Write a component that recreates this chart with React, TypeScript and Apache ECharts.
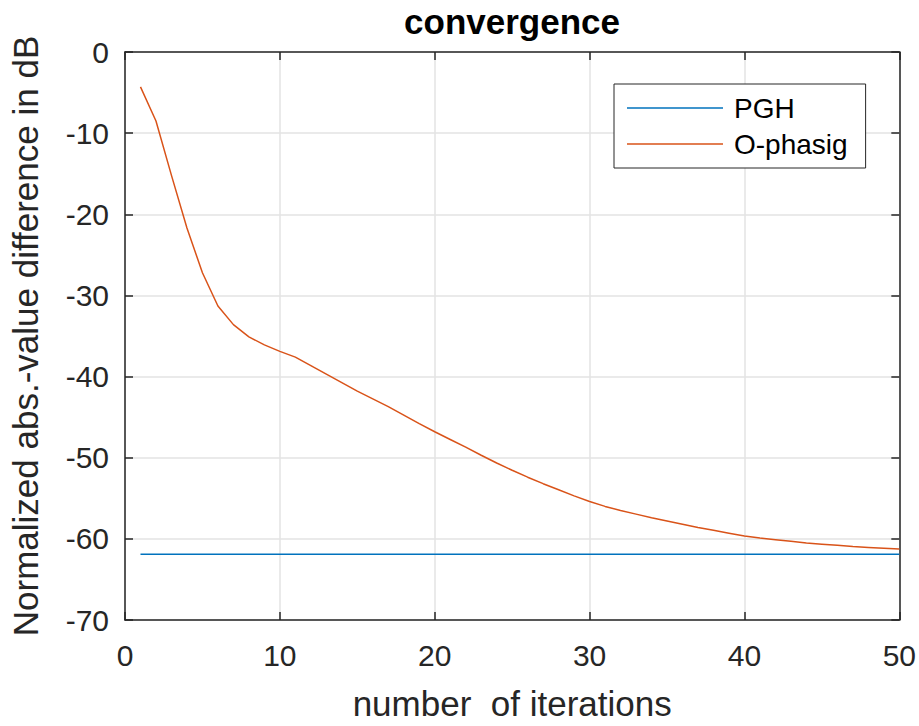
import React, { useEffect, useRef } from "react";
import * as echarts from "echarts";

const iterations = [
  1, 2, 3, 4, 5, 6, 7, 8, 9, 10, 11, 12, 13, 14, 15, 16, 17, 18, 19, 20, 21, 22, 23, 24, 25,
  26, 27, 28, 29, 30, 31, 32, 33, 34, 35, 36, 37, 38, 39, 40, 41, 42, 43, 44, 45, 46, 47, 48, 49, 50,
];

const pghValues = [
  -61.9, -61.9, -61.9, -61.9, -61.9, -61.9, -61.9, -61.9, -61.9, -61.9,
  -61.9, -61.9, -61.9, -61.9, -61.9, -61.9, -61.9, -61.9, -61.9, -61.9,
  -61.9, -61.9, -61.9, -61.9, -61.9, -61.9, -61.9, -61.9, -61.9, -61.9,
  -61.9, -61.9, -61.9, -61.9, -61.9, -61.9, -61.9, -61.9, -61.9, -61.9,
  -61.9, -61.9, -61.9, -61.9, -61.9, -61.9, -61.9, -61.9, -61.9, -61.9,
];

const ophasigValues = [
  -4.3, -8.5, -15.2, -21.7, -27.2, -31.3, -33.6, -35.1, -36.1, -36.9,
  -37.6, -38.65, -39.7, -40.75, -41.8, -42.75, -43.7, -44.75, -45.8, -46.8,
  -47.75, -48.7, -49.7, -50.65, -51.55, -52.4, -53.2, -53.95, -54.7, -55.4,
  -56.0, -56.5, -56.95, -57.4, -57.8, -58.2, -58.6, -58.95, -59.3, -59.65,
  -59.9, -60.1, -60.3, -60.5, -60.65, -60.8, -60.95, -61.05, -61.15, -61.25,
];

const seriesNames = ["PGH", "O-phasig"];
const titleText = "convergence";
const xAxisName = "number  of iterations";
const yAxisName = "Normalized abs.-value difference in dB";

const FONT = "'Liberation Sans', Arial, Helvetica, sans-serif";
const AX = "#262626";

export default function App() {
  const ref = useRef<HTMLDivElement>(null);

  useEffect(() => {
    document.body.style.margin = "0";
    const chart = echarts.init(ref.current!, null, { renderer: "svg" });

    const axisCommon = {
      type: "value" as const,
      axisLine: { show: true, onZero: false, lineStyle: { color: AX, width: 1.5 } },
      axisTick: { show: true, inside: true, length: 8, lineStyle: { color: AX, width: 1.5 } },
    };

    chart.setOption({
      animation: false,
      backgroundColor: "#ffffff",
      textStyle: { fontFamily: FONT },
      grid: { left: 124, right: 18, top: 52, bottom: 100, containLabel: false },
      graphic: [
        {
          type: "text",
          x: 512,
          y: 4,
          style: {
            text: titleText,
            fill: "#000000",
            font: `bold 35px ${FONT}`,
            textAlign: "center",
            textVerticalAlign: "top",
          },
        },
      ],
      legend: {
        orient: "vertical",
        left: 614,
        top: 84,
        data: seriesNames.map((n) => ({ name: n, icon: "rect" })),
        itemWidth: 96,
        itemHeight: 1.5,
        itemGap: 0,
        padding: [6, 18, 6, 13],
        borderColor: AX,
        borderWidth: 1,
        backgroundColor: "#ffffff",
        textStyle: { fontSize: 28, color: "#000000", fontFamily: FONT, lineHeight: 36, padding: [0, 0, 0, 6] },
        selectedMode: false,
      },
      xAxis: [
        {
          ...axisCommon,
          position: "bottom",
          min: 0,
          max: 50,
          interval: 10,
          name: xAxisName,
          nameLocation: "middle",
          nameGap: 66,
          nameTextStyle: { fontSize: 35, color: AX, fontFamily: FONT },
          axisLabel: { show: true, margin: 20, fontSize: 30, color: AX, fontFamily: FONT },
          splitLine: { show: true, lineStyle: { color: "#e3e3e3", width: 1.5 } },
        },
        {
          ...axisCommon,
          position: "top",
          min: 0,
          max: 50,
          interval: 10,
          axisLabel: { show: false },
          splitLine: { show: false },
        },
      ],
      yAxis: [
        {
          ...axisCommon,
          position: "left",
          min: -70,
          max: 0,
          interval: 10,
          name: yAxisName,
          nameLocation: "middle",
          nameGap: 82,
          nameTextStyle: { fontSize: 35, color: AX, fontFamily: FONT },
          axisLabel: { show: true, margin: 16, fontSize: 30, color: AX, fontFamily: FONT },
          splitLine: { show: true, lineStyle: { color: "#e3e3e3", width: 1.5 } },
        },
        {
          ...axisCommon,
          position: "right",
          min: -70,
          max: 0,
          interval: 10,
          axisLabel: { show: false },
          splitLine: { show: false },
        },
      ],
      series: [
        {
          name: seriesNames[0],
          type: "line",
          data: iterations.map((x, i) => [x, pghValues[i]]),
          symbol: "none",
          showSymbol: false,
          lineStyle: { color: "#0072BD", width: 1.5 },
          itemStyle: { color: "#0072BD" },
        },
        {
          name: seriesNames[1],
          type: "line",
          data: iterations.map((x, i) => [x, ophasigValues[i]]),
          symbol: "none",
          showSymbol: false,
          lineStyle: { color: "#D95319", width: 1.5 },
          itemStyle: { color: "#D95319" },
        },
      ],
    });

    return () => chart.dispose();
  }, []);

  return <div ref={ref} style={{ position: "fixed", left: 0, top: 0, width: 919, height: 726 }} />;
}
